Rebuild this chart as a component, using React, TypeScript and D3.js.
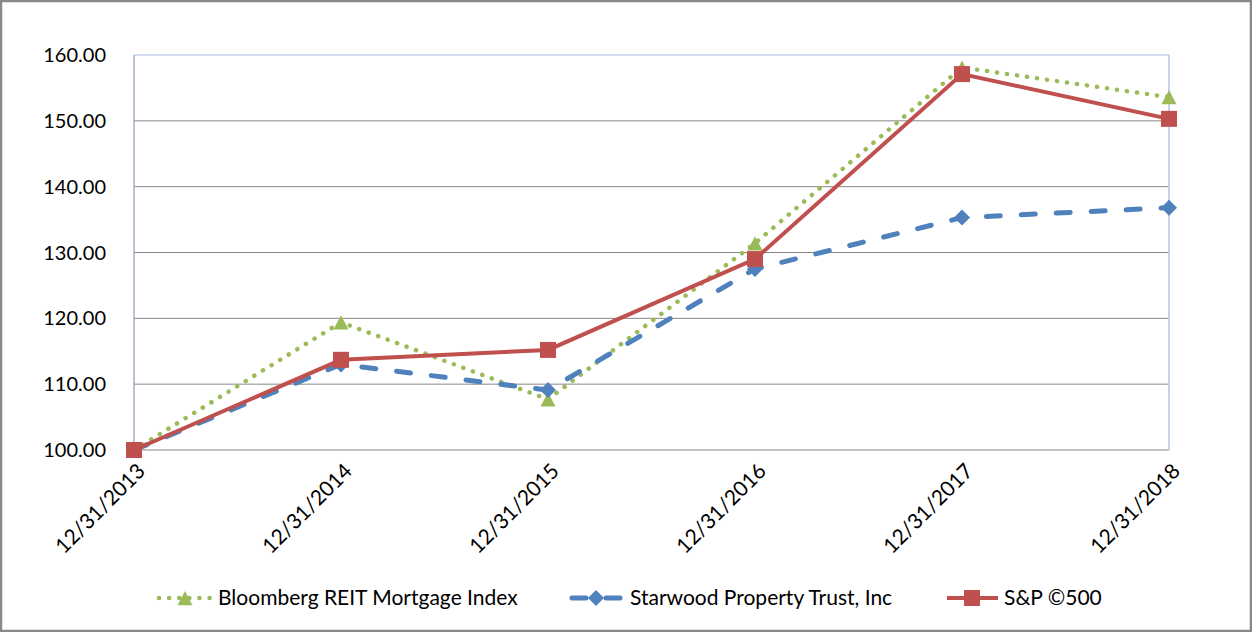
import * as d3 from 'd3';

const dates = ['12/31/2013', '12/31/2014', '12/31/2015', '12/31/2016', '12/31/2017', '12/31/2018'];
const bloomberg = [100, 119.4, 107.7, 131.4, 158.1, 153.6];
const starwood = [100, 113.0, 109.1, 127.5, 135.3, 136.8];
const sp500 = [100, 113.7, 115.2, 129.0, 157.1, 150.3];
const yTicks = [100, 110, 120, 130, 140, 150, 160];

const W = 1252;
const H = 632;
const font = 'Lato, "Open Sans", sans-serif';
const green = '#9BBB59';
const blue = '#4F81BD';
const red = '#C0504D';

const margin = { top: 55, right: 83, bottom: 182, left: 134 };
const innerW = W - margin.left - margin.right;
const innerH = H - margin.top - margin.bottom;

const x = d3.scalePoint<string>().domain(dates).range([0, innerW]);
const y = d3.scaleLinear().domain([100, 160]).range([innerH, 0]);

function tri(cx: number, cy: number, s = 15) {
  const h = s * 0.95;
  return `M${cx},${cy - h / 2}L${cx + s / 2},${cy + h / 2}L${cx - s / 2},${cy + h / 2}Z`;
}
function diamond(cx: number, cy: number, s = 16) {
  const r = s / 2;
  return `M${cx},${cy - r}L${cx + r},${cy}L${cx},${cy + r}L${cx - r},${cy}Z`;
}

const line = d3
  .line<number>()
  .x((_, i) => x(dates[i]) ?? 0)
  .y((v) => y(v));

export default function App() {
  const legendY = 598;
  return (
    <svg
      width={W}
      height={H}
      style={{ position: 'absolute', left: 0, top: 0, display: 'block', background: '#fff' }}
    >
      <rect x={1} y={1} width={W - 2} height={H - 2} fill="#fff" stroke="#888" strokeWidth={2.5} />
      <g transform={`translate(${margin.left},${margin.top})`}>
        {yTicks.map((t) => (
          <line key={t} x1={0} x2={innerW} y1={y(t)} y2={y(t)} stroke={t === 160 ? '#A9B9E0' : '#868686'} strokeWidth={1} />
        ))}
        <line x1={innerW} x2={innerW} y1={0} y2={innerH} stroke="#B4C4E6" strokeWidth={1.5} />
        <line x1={0} x2={0} y1={0} y2={innerH} stroke="#8E9AB8" strokeWidth={1.2} />
        {yTicks.map((t) => (
          <text
            key={t}
            x={-28}
            y={y(t)}
            dy="0.35em"
            textAnchor="end"
            fontFamily={font}
            fontSize={20}
            fill="#000"
          >
            {t.toFixed(2)}
          </text>
        ))}
        {dates.map((d) => (
          <text
            key={d}
            transform={`translate(${(x(d) ?? 0) + 2},${innerH + 12}) rotate(-45)`}
            textAnchor="end"
            dy="0.7em"
            fontFamily={font}
            fontSize={21}
            fill="#000"
          >
            {d}
          </text>
        ))}

        <path d={line(bloomberg) ?? ''} fill="none" stroke={green} strokeWidth={4.5} strokeDasharray="0.1,10" strokeLinecap="round" />
        {bloomberg.map((v, i) => (
          <path key={i} d={tri(x(dates[i]) ?? 0, y(v))} fill={green} />
        ))}

        <path d={line(starwood) ?? ''} fill="none" stroke={blue} strokeWidth={5} strokeDasharray="14,21" strokeLinecap="round" />
        {starwood.map((v, i) => (
          <path key={i} d={diamond(x(dates[i]) ?? 0, y(v))} fill={blue} />
        ))}

        <path d={line(sp500) ?? ''} fill="none" stroke={red} strokeWidth={4} />
        {sp500.map((v, i) => (
          <rect key={i} x={(x(dates[i]) ?? 0) - 8} y={y(v) - 8} width={16} height={16} fill={red} />
        ))}
      </g>

      <g fontFamily={font} fontSize={21} fill="#000">
        <line x1={159} x2={212} y1={legendY} y2={legendY} stroke={green} strokeWidth={4.5} strokeDasharray="0.1,10" strokeLinecap="round" />
        <path d={tri(185, legendY)} fill={green} />
        <text x={218} y={legendY} dy="0.35em">Bloomberg REIT Mortgage Index</text>

        <line x1={572} x2={620} y1={legendY} y2={legendY} stroke={blue} strokeWidth={5} strokeDasharray="14,20" strokeLinecap="round" />
        <path d={diamond(596, legendY)} fill={blue} />
        <text x={630} y={legendY} dy="0.35em">Starwood Property Trust, Inc</text>

        <line x1={947} x2={998} y1={legendY} y2={legendY} stroke={red} strokeWidth={4} />
        <rect x={964} y={legendY - 8} width={16} height={16} fill={red} />
        <text x={1004} y={legendY} dy="0.35em">S&amp;P ©500</text>
      </g>
    </svg>
  );
}
